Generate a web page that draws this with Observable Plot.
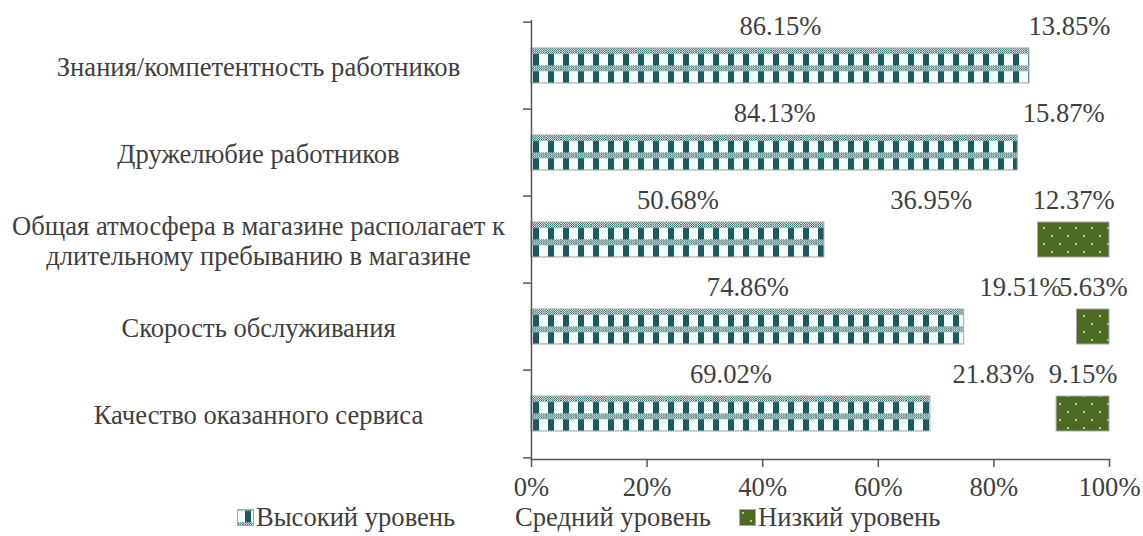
<!DOCTYPE html>
<html><head><meta charset="utf-8">
<script src="https://cdn.jsdelivr.net/npm/d3@7"></script>
<script src="https://cdn.jsdelivr.net/npm/@observablehq/plot@0.6"></script>
<style>
body{margin:0;background:#fff;font-family:"Liberation Serif","Times New Roman",serif;color:#404040;}
#chart svg{display:block;}
#chart svg text{font-family:"Liberation Serif","Times New Roman",serif;}
#legend{position:relative;height:36px;font-size:26.6px;}
.item{position:absolute;top:2px;display:flex;align-items:center;white-space:nowrap;line-height:30px;}
.item svg{margin-right:2px;}
</style></head><body>
<div id="chart"></div>
<div id="legend"></div>
<script>
const categories = [
  "Знания/компетентность работников",
  "Дружелюбие работников",
  "Общая атмосфера в магазине располагает к длительному пребыванию в магазине",
  "Скорость обслуживания",
  "Качество оказанного сервиса"
];
const categoryLines = [
  "Знания/компетентность работников",
  "Дружелюбие работников",
  "Общая атмосфера в магазине располагает к\nдлительному пребыванию в магазине",
  "Скорость обслуживания",
  "Качество оказанного сервиса"
];
const levels = ["Высокий уровень", "Средний уровень", "Низкий уровень"];
const high = [86.15, 84.13, 50.68, 74.86, 69.02];
const medium = [13.85, 15.87, 36.95, 19.51, 21.83];
const low = [0, 0, 12.37, 5.63, 9.15];
const xTicks = [0, 20, 40, 60, 80, 100];

const series = [high, medium, low];
const rows = [];
categories.forEach((c, i) => series.forEach((s, j) => {
  if (s[i] > 0) rows.push({category: c, level: levels[j], value: s[i]});
}));

const W = 1143, H = 500, mt = 20, mb = 41, ml = 531, mr = 34;
const step = (H - mt - mb) / categories.length;
const bw = step * 0.4;
const FS = 26.6;
const axisColor = "#555";
const textColor = "#404040";
const labelOf = new Map(categories.map((c, i) => [c, categoryLines[i]]));

const chart = Plot.plot({
  width: W, height: H,
  marginTop: mt, marginBottom: mb, marginLeft: ml, marginRight: mr,
  style: {fontFamily: "'Liberation Serif', 'Times New Roman', serif", fontSize: FS + "px", color: textColor, background: "#fff", overflow: "visible"},
  x: {domain: [0, 100], label: null},
  y: {domain: categories, paddingInner: 0.6, paddingOuter: 0.3, label: null},
  color: {domain: levels, range: ["url(#hiPat)", "none", "url(#loPat)"]},
  marks: [
    Plot.barX(rows, Plot.filter(d => d.level !== levels[1], Plot.stackX({
      y: "category", x: "value", z: "level", order: levels,
      fill: "level", stroke: "#a8a8a8", strokeWidth: 1
    }))),
    Plot.text(rows, Plot.stackX({
      y: "category", x: "value", z: "level", order: levels,
      text: d => d.value.toFixed(2) + "%",
      dy: -(bw / 2 + 22), fontSize: FS, fill: textColor
    })),
    Plot.ruleX([0], {stroke: axisColor, strokeWidth: 1.5}),
    Plot.frame({anchor: "bottom", stroke: axisColor, strokeWidth: 1.5}),
    Plot.axisX(xTicks, {label: null, tickFormat: d => d + "%", tickSize: 8, tickPadding: 10, stroke: axisColor, strokeWidth: 1.5, fontSize: FS, fill: textColor}),
    Plot.axisY(categories, {label: null, tickSize: 8, text: null, dy: -step / 2, stroke: axisColor, strokeWidth: 1.5}),
    Plot.axisY(categories.slice(-1), {label: null, tickSize: 8, text: null, dy: step / 2, stroke: axisColor, strokeWidth: 1.5}),
    Plot.axisY(categories, {label: null, tickSize: 0, tickPadding: ml - 258, textAnchor: "middle",
      tickFormat: d => labelOf.get(d), fontSize: FS, fill: textColor, lineHeight: 1.13})
  ]
});

// patterns aligned with the band layout
const ys = chart.scale("y");
const barTop = ys.apply(categories[0]);
const P = ys.step / 5;
const ns = "http://www.w3.org/2000/svg";
const defs = document.createElementNS(ns, "defs");
const pw = 15;
defs.innerHTML = `
<pattern id="dith" width="2" height="2" patternUnits="userSpaceOnUse">
  <rect width="2" height="2" fill="#ffffff"/>
  <rect x="0" y="0" width="1" height="1" fill="#1d5f60"/>
  <rect x="1" y="1" width="1" height="1" fill="#1d5f60"/>
</pattern>
<pattern id="hiPat" x="${ml}" y="${barTop}" width="${pw}" height="${P}" patternUnits="userSpaceOnUse">
  <rect width="${pw}" height="${P}" fill="#f4fbfb"/>
  <rect x="0" y="0" width="${pw}" height="${P * 0.34}" fill="url(#dith)"/>
  <rect x="2" y="${P * 0.34}" width="6" height="${P * 0.66}" fill="#1b5b5c"/>
</pattern>
<pattern id="loPat" x="0" y="${barTop}" width="16" height="16" patternUnits="userSpaceOnUse">
  <rect width="16" height="16" fill="#4d6a22"/>
  <circle cx="4" cy="4" r="0.9" fill="#f0f4d8"/>
  <circle cx="12" cy="12" r="0.9" fill="#f0f4d8"/>
</pattern>`;
chart.insertBefore(defs, chart.firstChild);
document.getElementById("chart").append(chart);

// legend
const legend = document.getElementById("legend");
const lx = [237, 496, 739];
levels.forEach((lv, i) => {
  const it = document.createElement("div");
  it.className = "item";
  it.style.left = lx[i] + "px";
  const fill = ["url(#hiPat)", "none", "url(#loPat)"][i];
  const stroke = i === 1 ? "none" : "#a8a8a8";
  it.innerHTML = `<svg width="17" height="17"><rect x="0.5" y="0.5" width="16" height="16" fill="${fill}" stroke="${stroke}"/></svg><span>${lv}</span>`;
  legend.append(it);
});
</script>
</body></html>
